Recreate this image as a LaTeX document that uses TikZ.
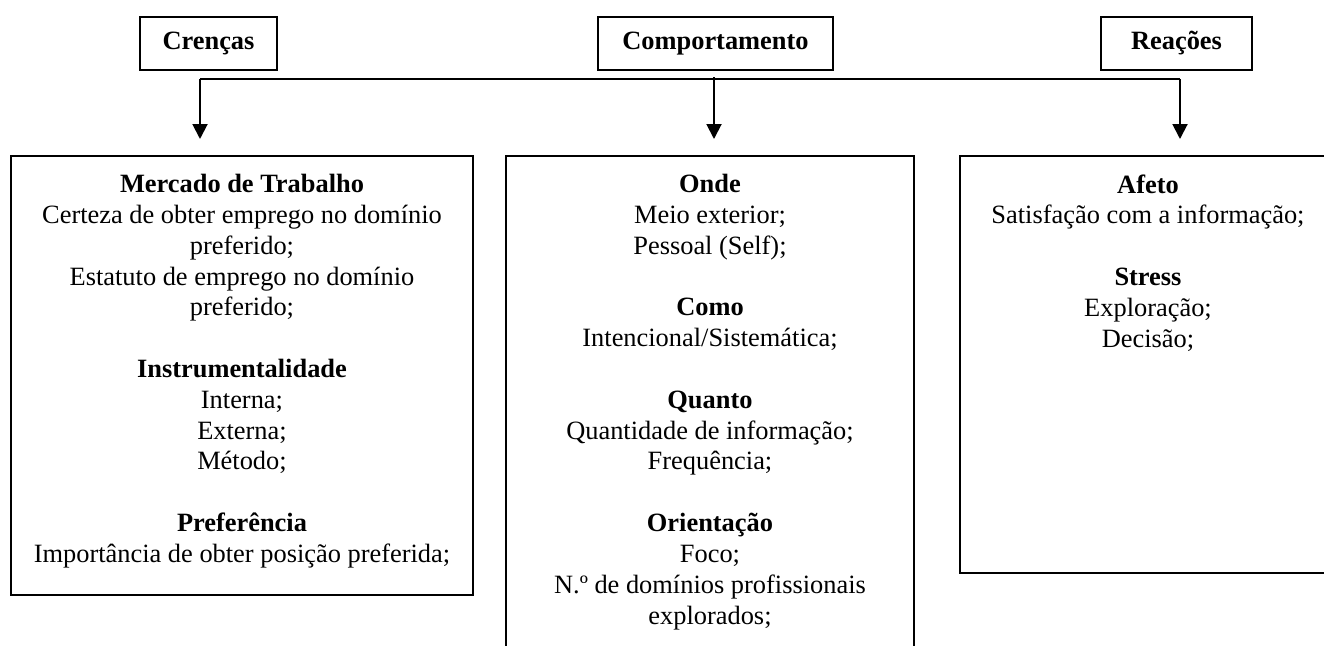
\documentclass[tikz,border=0pt]{standalone}
\usepackage{fontspec}
\setmainfont{Liberation Serif}
\usetikzlibrary{arrows.meta}

\newcommand{\unpx}{0.4545pt}

\tikzset{
	titulo/.style={draw, line width=0.9pt, inner sep=0pt, minimum height=53*\unpx,
		font=\bfseries\fontsize{12}{14}\selectfont},
	caixa/.style={draw, line width=0.9pt, inner sep=0pt, anchor=north west},
	texto/.style={anchor=north, align=center, inner sep=0pt,
		font=\fontsize{12}{14}\selectfont},
	seta/.style={line width=0.9pt, shorten >=16*\unpx,
		-{Triangle[length=6.8pt,width=6.8pt]}}
}

\begin{document}
\begin{tikzpicture}[x=\unpx, y=-\unpx]
	\useasboundingbox (0,0) rectangle (1324,646);
	
	\node[titulo, minimum width=137*\unpx] (crencas) at (208.5,43.5) {Crenças};
	\node[titulo, minimum width=235*\unpx] (comport) at (715.5,43.5) {Comportamento};
	\node[titulo, minimum width=151*\unpx] (reacoes) at (1176.5,43.5) {Reações};
	
	\node[caixa, minimum width=462*\unpx, minimum height=439*\unpx] (mercado) at (10,155) {};
	\node[caixa, minimum width=408*\unpx, minimum height=520*\unpx] (onde) at (505,155) {};
	\node[caixa, minimum width=376*\unpx, minimum height=417*\unpx] (afeto) at (959,155) {};
	
	\node[texto] (txmercado) at ([yshift=-19*\unpx]mercado.north) {\textbf{Mercado de Trabalho}\\
		Certeza de obter emprego no domínio\\ preferido;\\
		Estatuto de emprego no domínio\\ preferido;\\[14pt]
		\textbf{Instrumentalidade}\\ Interna;\\ Externa;\\ Método;\\[14pt]
		\textbf{Preferência}\\ Importância de obter posição preferida;};
	\node[texto] (txonde) at ([yshift=-19*\unpx]onde.north) {\textbf{Onde}\\
		Meio exterior;\\ Pessoal (Self);\\[14pt]
		\textbf{Como}\\ Intencional/Sistemática;\\[14pt]
		\textbf{Quanto}\\ Quantidade de informação;\\ Frequência;\\[14pt]
		\textbf{Orientação}\\ Foco;\\ N.º de domínios profissionais\\ explorados;};
	\node[texto] (txafeto) at ([yshift=-19*\unpx]afeto.north) {\textbf{Afeto}\\
		Satisfação com a informação;\\[14pt]
		\textbf{Stress}\\ Exploração;\\ Decisão;};
	
	\coordinate (barraE) at (200,79);
	\coordinate (barraD) at (1180,79);
	\coordinate (barraC) at (714,77);
	\draw[line width=0.9pt] (barraE) -- (barraD);
	\draw[seta] (barraE) -- (mercado.north -| barraE);
	\draw[seta] (barraC) -- (onde.north -| barraC);
	\draw[seta] (barraD) -- (afeto.north -| barraD);
\end{tikzpicture}
\end{document}
